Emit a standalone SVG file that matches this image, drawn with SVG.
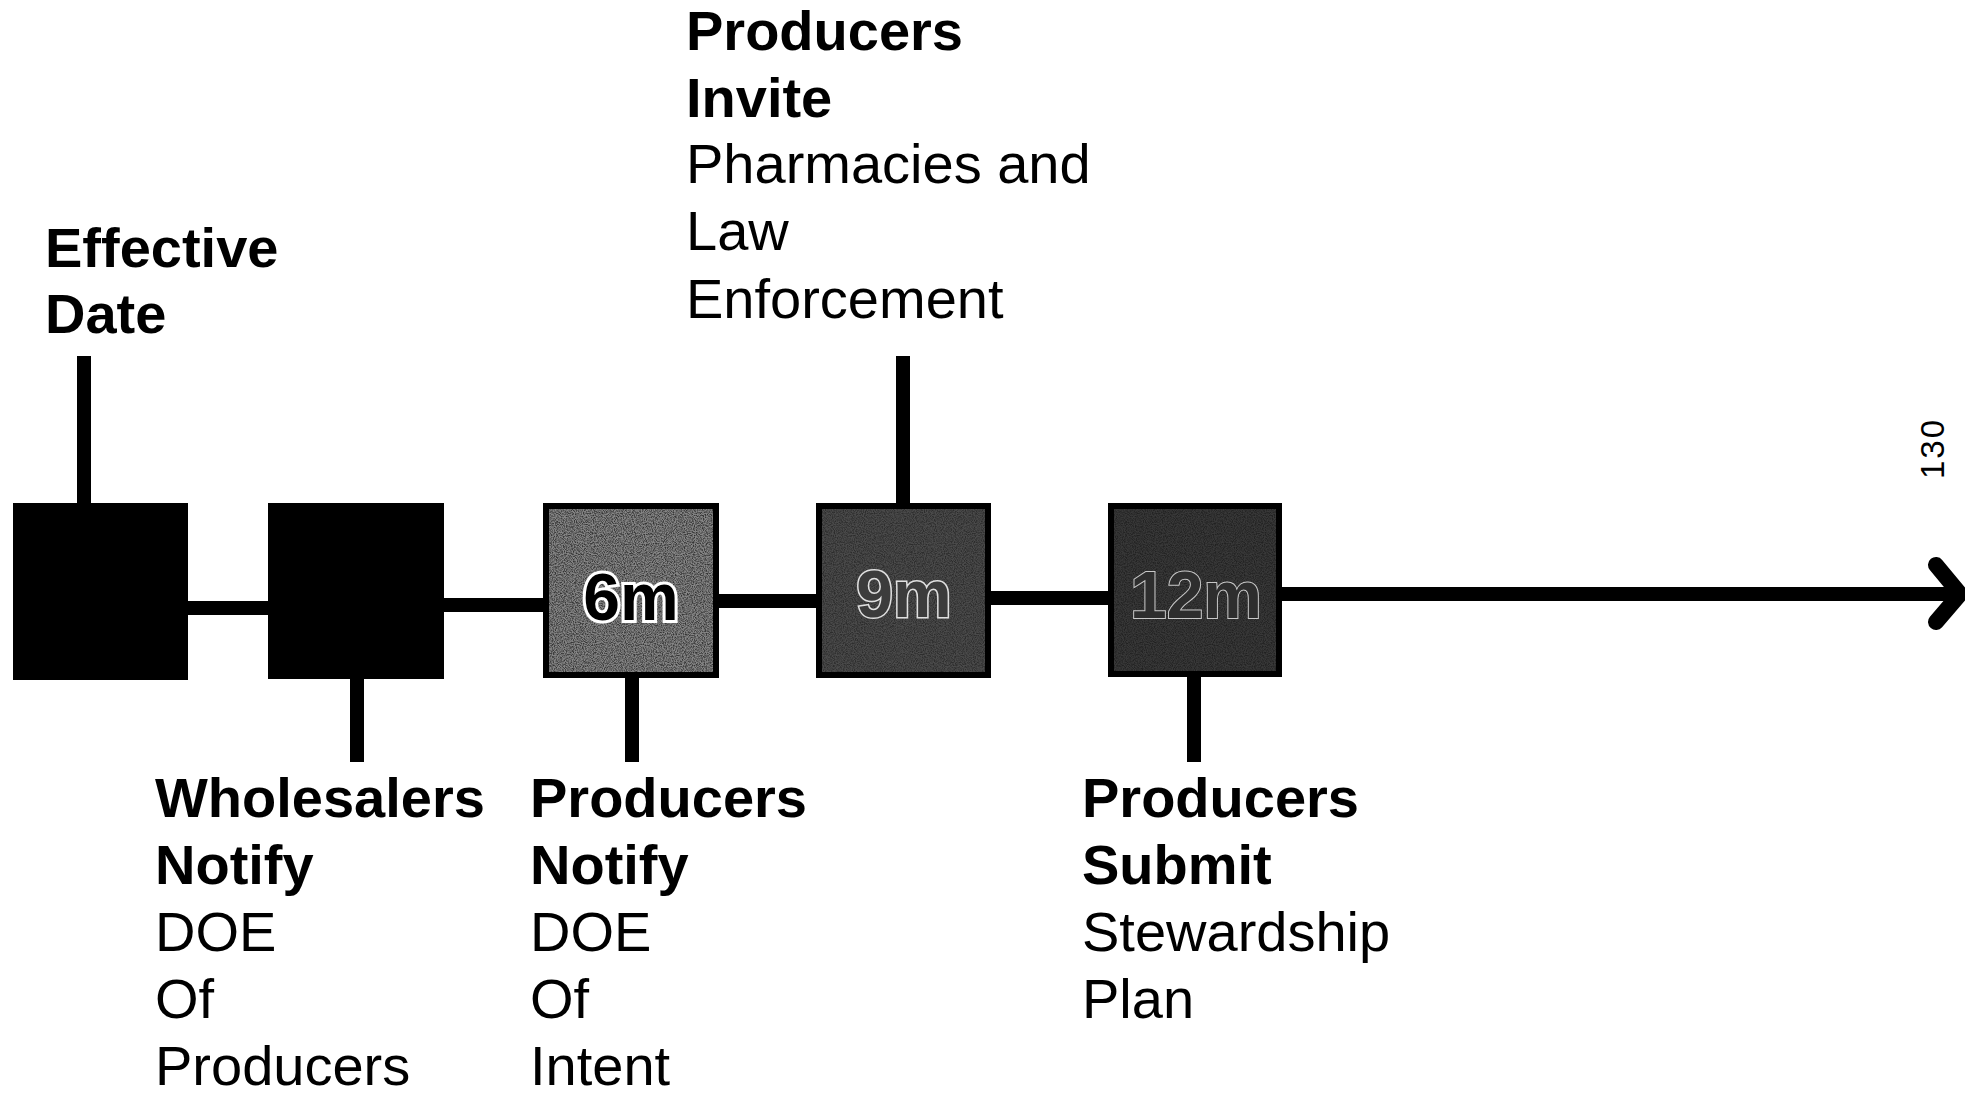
<svg xmlns="http://www.w3.org/2000/svg" width="1965" height="1094" viewBox="0 0 1965 1094">
<style>
  .t { font-family: "Liberation Sans", Arial, sans-serif; font-size: 56px; fill: #000; }
  .b { font-weight: bold; }
  .line { stroke: #000; stroke-width: 14; fill: none; }
  .box { stroke: #000; stroke-width: 6; }
  .lbl { font-family: "Liberation Sans", Arial, sans-serif; font-weight: bold; font-size: 66px; text-anchor: middle; paint-order: stroke; }
</style>
<defs>
  <filter id="grain" x="0" y="0" width="100%" height="100%">
    <feTurbulence type="fractalNoise" baseFrequency="0.9" numOctaves="2" seed="3" result="n"/>
    <feColorMatrix in="n" type="matrix" values="0 0 0 0 0  0 0 0 0 0  0 0 0 0 0  0 0 0 -2.5 1.6" result="dots"/>
    <feComposite in="dots" in2="SourceGraphic" operator="in"/>
  </filter>
</defs>

<g id="connectors">
  <line class="line" x1="185" y1="608" x2="272" y2="608"/>
  <line class="line" x1="440" y1="605" x2="547" y2="605"/>
  <line class="line" x1="715" y1="601" x2="820" y2="601"/>
  <line class="line" x1="987" y1="598" x2="1112" y2="598"/>
  <line class="line" x1="1278" y1="594" x2="1958" y2="594" stroke-width="15"/>
  <polyline points="1936,565 1960,594 1936,622" fill="none" stroke="#000" stroke-width="16" stroke-linecap="round" stroke-linejoin="round"/>
  <line class="line" x1="84" y1="356" x2="84" y2="505"/>
  <line class="line" x1="357" y1="676" x2="357" y2="762"/>
  <line class="line" x1="632" y1="676" x2="632" y2="762"/>
  <line class="line" x1="903" y1="356" x2="903" y2="505"/>
  <line class="line" x1="1194" y1="676" x2="1194" y2="762"/>
</g>

<g id="node-effective">
  <rect x="13" y="503" width="175" height="177" fill="#000"/>
  <text class="t b" x="45" y="267">Effective</text>
  <text class="t b" x="45" y="333">Date</text>
</g>

<g id="node-wholesalers">
  <rect x="268" y="503" width="176" height="176" fill="#000"/>
  <text class="t b" x="155" y="817">Wholesalers</text>
  <text class="t b" x="155" y="884">Notify</text>
  <text class="t" x="155" y="951">DOE</text>
  <text class="t" x="155" y="1018">Of</text>
  <text class="t" x="155" y="1085">Producers</text>
</g>

<g id="node-6m">
  <rect class="box" x="546" y="506" width="170" height="169" fill="#858585"/>
  <rect x="549" y="509" width="164" height="163" fill="#000" filter="url(#grain)" opacity="0.6"/>
  <text class="lbl" x="631" y="620" fill="#000" stroke="#fff" stroke-width="6">6m</text>
  <text class="t b" x="530" y="817">Producers</text>
  <text class="t b" x="530" y="884">Notify</text>
  <text class="t" x="530" y="951">DOE</text>
  <text class="t" x="530" y="1018">Of</text>
  <text class="t" x="530" y="1085">Intent</text>
</g>

<g id="node-9m">
  <rect class="box" x="819" y="506" width="169" height="169" fill="#4a4a4a"/>
  <rect x="822" y="509" width="163" height="163" fill="#000" filter="url(#grain)" opacity="0.4"/>
  <text class="lbl" x="904" y="617" fill="#3c3c3c" stroke="#e0e0e0" stroke-width="3">9m</text>
  <text class="t b" x="686" y="50">Producers</text>
  <text class="t b" x="686" y="117">Invite</text>
  <text class="t" x="686" y="183">Pharmacies and</text>
  <text class="t" x="686" y="250">Law</text>
  <text class="t" x="686" y="318">Enforcement</text>
</g>

<g id="node-12m">
  <rect class="box" x="1111" y="506" width="168" height="168" fill="#383838"/>
  <rect x="1114" y="509" width="162" height="162" fill="#000" filter="url(#grain)" opacity="0.4"/>
  <text class="lbl" x="1196" y="618" fill="#2e2e2e" stroke="#c8c8c8" stroke-width="2" font-weight="normal" font-size="70">12m</text>
  <text class="t b" x="1082" y="817">Producers</text>
  <text class="t b" x="1082" y="884">Submit</text>
  <text class="t" x="1082" y="951">Stewardship</text>
  <text class="t" x="1082" y="1018">Plan</text>
</g>

<text x="0" y="0" transform="translate(1944,479) rotate(-90)" font-family="Liberation Sans, Arial, sans-serif" font-size="33" letter-spacing="2">130</text>
</svg>
